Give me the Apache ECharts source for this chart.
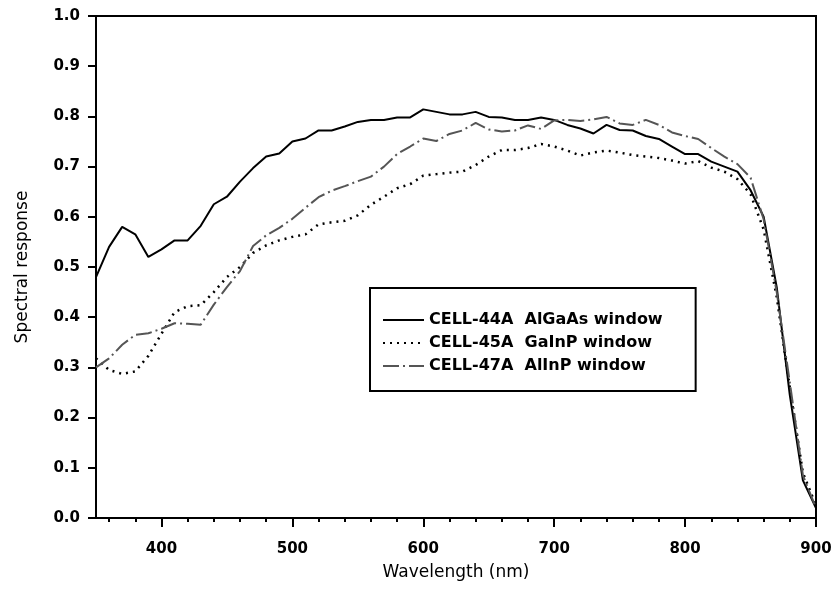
<!DOCTYPE html>
<html>
<head>
<meta charset="utf-8">
<title>Spectral response</title>
<script src="https://cdn.jsdelivr.net/npm/echarts@6/dist/echarts.min.js"></script>
<style>
  html, body { margin: 0; padding: 0; background: #fff; }
  #main { width: 837px; height: 612px; }
</style>
</head>
<body>
<div id="main"></div>
<script>
// wavelength grid (nm)
var wavelengths = [350, 360, 370, 380, 390, 400, 410, 420, 430, 440, 450, 460, 470, 480, 490,
  500, 510, 520, 530, 540, 550, 560, 570, 580, 590, 600, 610, 620, 630, 640, 650, 660, 670,
  680, 690, 700, 710, 720, 730, 740, 750, 760, 770, 780, 790, 800, 810, 820, 830, 840, 850,
  860, 870, 880, 890, 900];

// CELL-44A AlGaAs window
var cell44 = [0.48, 0.54, 0.58, 0.565, 0.52, 0.535, 0.553, 0.553, 0.582, 0.625, 0.64, 0.67, 0.697, 0.72, 0.726,
  0.75, 0.756, 0.772, 0.772, 0.78, 0.789, 0.793, 0.793, 0.798, 0.798, 0.814, 0.809, 0.804, 0.804, 0.809, 0.799, 0.798, 0.793,
  0.793, 0.798, 0.793, 0.783, 0.776, 0.766, 0.783, 0.773, 0.772, 0.761, 0.755, 0.74, 0.725, 0.725, 0.71, 0.70, 0.69, 0.653,
  0.60, 0.46, 0.245, 0.075, 0.02];

// CELL-45A GaInP window
var cell45 = [0.318, 0.295, 0.287, 0.292, 0.323, 0.367, 0.41, 0.422, 0.424, 0.45, 0.48, 0.50, 0.528, 0.543, 0.553,
  0.56, 0.565, 0.585, 0.589, 0.592, 0.603, 0.624, 0.64, 0.657, 0.665, 0.682, 0.685, 0.688, 0.69, 0.703, 0.72, 0.733, 0.733,
  0.737, 0.745, 0.74, 0.732, 0.722, 0.728, 0.732, 0.728, 0.723, 0.72, 0.717, 0.712, 0.706, 0.711, 0.698, 0.69, 0.675, 0.645,
  0.575, 0.44, 0.26, 0.09, 0.025];

// CELL-47A AlInP window
var cell47 = [0.30, 0.318, 0.345, 0.365, 0.368, 0.377, 0.388, 0.387, 0.385, 0.425, 0.46, 0.492, 0.542, 0.563, 0.578,
  0.596, 0.618, 0.639, 0.652, 0.661, 0.671, 0.68, 0.70, 0.725, 0.74, 0.756, 0.751, 0.765, 0.772, 0.787, 0.774, 0.770, 0.772,
  0.782, 0.775, 0.792, 0.793, 0.791, 0.794, 0.799, 0.786, 0.783, 0.793, 0.783, 0.768, 0.761, 0.755, 0.737, 0.72, 0.705, 0.678,
  0.595, 0.45, 0.27, 0.085, 0.02];

var seriesNames = ['CELL-44A  AlGaAs window', 'CELL-45A  GaInP window', 'CELL-47A  AlInP window'];

// tick positions
var majorTicks = [400, 500, 600, 700, 800, 900];
var minorTicks = [360, 380, 420, 440, 460, 480, 520, 540, 560, 580, 620, 640, 660, 680,
  720, 740, 760, 780, 820, 840, 860, 880];

function pairs(vals) {
  var out = [];
  for (var i = 0; i < wavelengths.length; i++) out.push([wavelengths[i], vals[i]]);
  return out;
}

var font = 'DejaVu Sans';
var chart = echarts.init(document.getElementById('main'));

var option = {
  animation: false,
  backgroundColor: '#fff',
  grid: {
    left: 96, right: 21, top: 16, bottom: 94,
    show: true, borderColor: '#000', borderWidth: 2
  },
  legend: {
    orient: 'vertical',
    left: 370, top: 288,
    padding: [24, 33, 17, 12],
    itemWidth: 41, itemHeight: 14, itemGap: 7,
    borderColor: '#000', borderWidth: 2,
    itemStyle: { opacity: 0 },
    textStyle: { fontFamily: font, fontWeight: 'bold', fontSize: 16, lineHeight: 14, color: '#000' },
    data: seriesNames
  },
  xAxis: [{
    type: 'value', min: 350, max: 900,
    name: 'Wavelength (nm)', nameLocation: 'middle', nameGap: 46,
    nameTextStyle: { fontFamily: font, fontSize: 17, color: '#000' },
    axisLine: { show: true, lineStyle: { color: '#000', width: 2 } },
    axisTick: { show: true, customValues: majorTicks, length: 9, lineStyle: { color: '#000', width: 2 } },
    axisLabel: { customValues: majorTicks, margin: 24, fontFamily: font, fontWeight: 'bold', fontSize: 15, color: '#000' },
    splitLine: { show: false }
  }, {
    type: 'value', min: 350, max: 900, position: 'bottom', offset: 0,
    axisLine: { show: false },
    axisTick: { show: true, customValues: minorTicks, length: 4, lineStyle: { color: '#000', width: 2 } },
    axisLabel: { show: false },
    splitLine: { show: false }
  }],
  yAxis: {
    type: 'value', min: 0, max: 1, interval: 0.1,
    name: 'Spectral response', nameLocation: 'middle', nameGap: 65, nameRotate: 90,
    nameTextStyle: { fontFamily: font, fontSize: 17, color: '#000' },
    axisLine: { show: true, lineStyle: { color: '#000', width: 2 } },
    axisTick: { show: true, length: 8, lineStyle: { color: '#000', width: 2 } },
    axisLabel: {
      margin: 16, fontFamily: font, fontWeight: 'bold', fontSize: 15, color: '#000',
      formatter: function (v) { return v.toFixed(1); }
    },
    splitLine: { show: false }
  },
  series: [{
    name: seriesNames[0], type: 'line', data: pairs(cell44),
    symbol: 'none', color: '#000',
    lineStyle: { color: '#000', width: 2, type: 'solid' }
  }, {
    name: seriesNames[1], type: 'line', data: pairs(cell45),
    symbol: 'none', color: '#000',
    lineStyle: { color: '#000', width: 2.5, type: [2, 5] }
  }, {
    name: seriesNames[2], type: 'line', data: pairs(cell47),
    symbol: 'none', color: '#555',
    lineStyle: { color: '#555', width: 2, type: [16, 4, 2, 4] }
  }]
};
chart.setOption(option);
</script>
</body>
</html>
